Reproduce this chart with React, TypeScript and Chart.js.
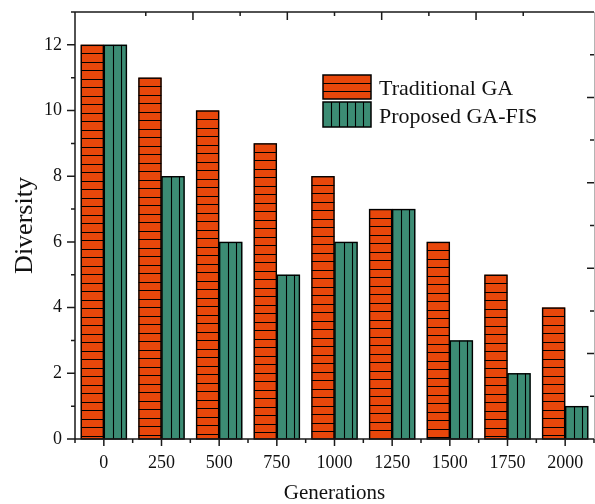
import React, { useEffect, useRef } from 'react';
import { Chart, registerables } from 'chart.js';

Chart.register(...registerables);

const categories = ['0', '250', '500', '750', '1000', '1250', '1500', '1750', '2000'];
const traditionalGA = [12, 11, 10, 9, 8, 7, 6, 5, 4];
const proposedGAFIS = [12, 8, 6, 5, 6, 7, 3, 2, 1];
const seriesNames = ['Traditional GA', 'Proposed GA-FIS'];
const seriesColors = ['#E8470B', '#3C8C74'];
const hatchKinds = ['h', 'v'];
const xTitle = 'Generations';
const yTitle = 'Diversity';
const yMax = 13;
const mirrorMax = 10;

const FONT = "'Liberation Serif', 'Times New Roman', serif";
const INK = '#1a1a1a';

const snap = (v: number) => Math.round(v) + 0.5;

const hatchPlugin = {
  id: 'hatch',
  afterDatasetsDraw(chart: any) {
    const ctx = chart.ctx;
    chart.data.datasets.forEach((_ds: any, di: number) => {
      const meta = chart.getDatasetMeta(di);
      const kind = hatchKinds[di];
      meta.data.forEach((bar: any) => {
        const { x, y, base, width } = bar.getProps(['x', 'y', 'base', 'width'], true);
        const left = x - width / 2;
        const right = x + width / 2;
        const top = Math.min(y, base);
        const bottom = Math.max(y, base);
        ctx.save();
        ctx.beginPath();
        ctx.rect(left, top, width, bottom - top);
        ctx.clip();
        ctx.strokeStyle = '#000';
        ctx.lineWidth = 1.1;
        ctx.beginPath();
        if (kind === 'h') {
          for (let yy = top + 8.5; yy < bottom - 1.5; yy += 8.5) {
            ctx.moveTo(left, snap(yy));
            ctx.lineTo(right, snap(yy));
          }
        } else {
          for (let xx = left + 9; xx < right - 2; xx += 8) {
            ctx.moveTo(snap(xx), top);
            ctx.lineTo(snap(xx), bottom);
          }
        }
        ctx.stroke();
        ctx.restore();
        // outline
        ctx.save();
        ctx.strokeStyle = '#000';
        ctx.lineWidth = 1.4;
        ctx.strokeRect(left + 0.5, top + 0.5, width - 1, bottom - top - 0.5);
        ctx.restore();
      });
    });
  },
};

const framePlugin = {
  id: 'frame',
  afterDraw(chart: any) {
    const { ctx, chartArea, scales } = chart;
    const { left, right, top, bottom } = chartArea;
    ctx.save();
    ctx.strokeStyle = INK;
    ctx.lineWidth = 1.5;
    ctx.lineCap = 'butt';
    ctx.beginPath();
    ctx.moveTo(left - 0.75, bottom);
    ctx.lineTo(right, bottom);
    ctx.moveTo(left - 0.75, top);
    ctx.lineTo(right, top);
    ctx.moveTo(left, top);
    ctx.lineTo(left, bottom);
    // left ticks (outward)
    for (let v = 0; v <= yMax; v++) {
      const py = scales.y.getPixelForValue(v);
      const len = v % 2 === 0 ? 8 : 4;
      ctx.moveTo(left - len, py);
      ctx.lineTo(left, py);
    }
    // bottom ticks (outward)
    const n = categories.length;
    for (let i = 0; i < n; i++) {
      const px = scales.x.getPixelForValue(i);
      ctx.moveTo(px, bottom);
      ctx.lineTo(px, bottom + 7);
    }
    for (let i = 0; i <= n; i++) {
      const px = scales.x.getPixelForValue(i - 0.5);
      ctx.moveTo(px, bottom);
      ctx.lineTo(px, bottom + 4);
    }
    // top ticks (inward)
    for (let v = 1; v < mirrorMax; v++) {
      const px = scales.xTop.getPixelForValue(v);
      const len = v % 2 === 0 ? 8 : 4;
      ctx.moveTo(px, top);
      ctx.lineTo(px, top + len);
    }
    // right ticks (inward)
    for (let v = 1; v < mirrorMax; v++) {
      const py = scales.yRight.getPixelForValue(v);
      const len = v % 2 === 0 ? 7 : 4;
      ctx.moveTo(right - len, py);
      ctx.lineTo(right, py);
    }
    ctx.stroke();
    ctx.strokeStyle = '#b4b4b4';
    ctx.lineWidth = 1;
    ctx.beginPath();
    ctx.moveTo(right + 0.5, top);
    ctx.lineTo(right + 0.5, bottom);
    ctx.stroke();
    ctx.restore();
  },
};

const legendPlugin = {
  id: 'customLegend',
  afterDraw(chart: any) {
    const ctx = chart.ctx;
    const bx = 323;
    const bw = 48;
    const rows = [
      { y: 75, h: 24 },
      { y: 102, h: 25 },
    ];
    ctx.save();
    chart.data.datasets.forEach((ds: any, i: number) => {
      const { y, h } = rows[i];
      ctx.fillStyle = ds.backgroundColor;
      ctx.fillRect(bx, y, bw, h);
      ctx.strokeStyle = '#000';
      ctx.lineWidth = 1.1;
      ctx.beginPath();
      if (hatchKinds[i] === 'h') {
        for (let yy = y + 8; yy < y + h - 2; yy += 8) {
          ctx.moveTo(bx, snap(yy));
          ctx.lineTo(bx + bw, snap(yy));
        }
      } else {
        for (let xx = bx + 8; xx < bx + bw - 2; xx += 8) {
          ctx.moveTo(snap(xx), y);
          ctx.lineTo(snap(xx), y + h);
        }
      }
      ctx.stroke();
      ctx.lineWidth = 1.5;
      ctx.strokeRect(bx, y, bw, h);
      ctx.fillStyle = '#111';
      ctx.font = `22px ${FONT}`;
      ctx.textBaseline = 'alphabetic';
      ctx.textAlign = 'left';
      ctx.fillText(ds.label, 379, y + h - 4);
    });
    ctx.restore();
  },
};

export default function App() {
  const ref = useRef<HTMLCanvasElement>(null);

  useEffect(() => {
    if (!ref.current) return;
    const chart = new Chart(ref.current, {
      type: 'bar',
      data: {
        labels: categories,
        datasets: [
          {
            label: seriesNames[0],
            data: traditionalGA,
            backgroundColor: seriesColors[0],
            borderColor: '#000',
            borderWidth: 0,
            xAxisID: 'x',
            yAxisID: 'y',
          },
          {
            label: seriesNames[1],
            data: proposedGAFIS,
            backgroundColor: seriesColors[1],
            borderColor: '#000',
            borderWidth: 0,
            xAxisID: 'x',
            yAxisID: 'y',
          },
        ],
      },
      options: {
        responsive: false,
        animation: false,
        devicePixelRatio: 1,
        datasets: {
          bar: { categoryPercentage: 0.8, barPercentage: 1.0 },
        },
        layout: { padding: { left: 0, right: 1, top: 12, bottom: 0 } },
        plugins: {
          legend: { display: false },
          tooltip: { enabled: false },
        },
        scales: {
          x: {
            type: 'category',
            position: 'bottom',
            offset: true,
            grid: { display: false, drawTicks: false },
            border: { display: false },
            ticks: {
              padding: 13,
              color: '#111',
              font: { family: FONT, size: 18 },
              maxRotation: 0,
              autoSkip: false,
            },
            title: {
              display: true,
              text: xTitle,
              color: '#111',
              font: { family: FONT, size: 21, lineHeight: 1 },
              padding: { top: 0, bottom: 0 },
            },
            afterFit(scale: any) {
              scale.height = 65;
              scale.paddingLeft = 0;
              scale.paddingRight = 0;
            },
          },
          y: {
            type: 'linear',
            position: 'left',
            min: 0,
            max: yMax,
            grid: { display: false, drawTicks: false },
            border: { display: false },
            ticks: {
              stepSize: 1,
              padding: 13,
              color: '#111',
              font: { family: FONT, size: 18 },
              callback: (v: any) => (Number(v) % 2 === 0 && Number(v) <= 12 ? String(v) : ''),
            },
            title: {
              display: true,
              text: yTitle,
              color: '#111',
              font: { family: FONT, size: 26, lineHeight: 1 },
              padding: { top: 12, bottom: 0 },
            },
            afterFit(scale: any) {
              scale.width = 75;
              scale.paddingTop = 0;
              scale.paddingBottom = 0;
            },
          },
          xTop: {
            type: 'linear',
            position: 'top',
            min: 0,
            max: mirrorMax,
            display: false,
          },
          yRight: {
            type: 'linear',
            position: 'right',
            min: 0,
            max: mirrorMax,
            display: false,
          },
        },
      },
      plugins: [hatchPlugin, framePlugin, legendPlugin],
    } as any);
    return () => chart.destroy();
  }, []);

  return (
    <div style={{ position: 'absolute', left: 0, top: 0, width: 595, height: 504, background: '#fff' }}>
      <canvas ref={ref} width={595} height={504} style={{ display: 'block' }} />
    </div>
  );
}
